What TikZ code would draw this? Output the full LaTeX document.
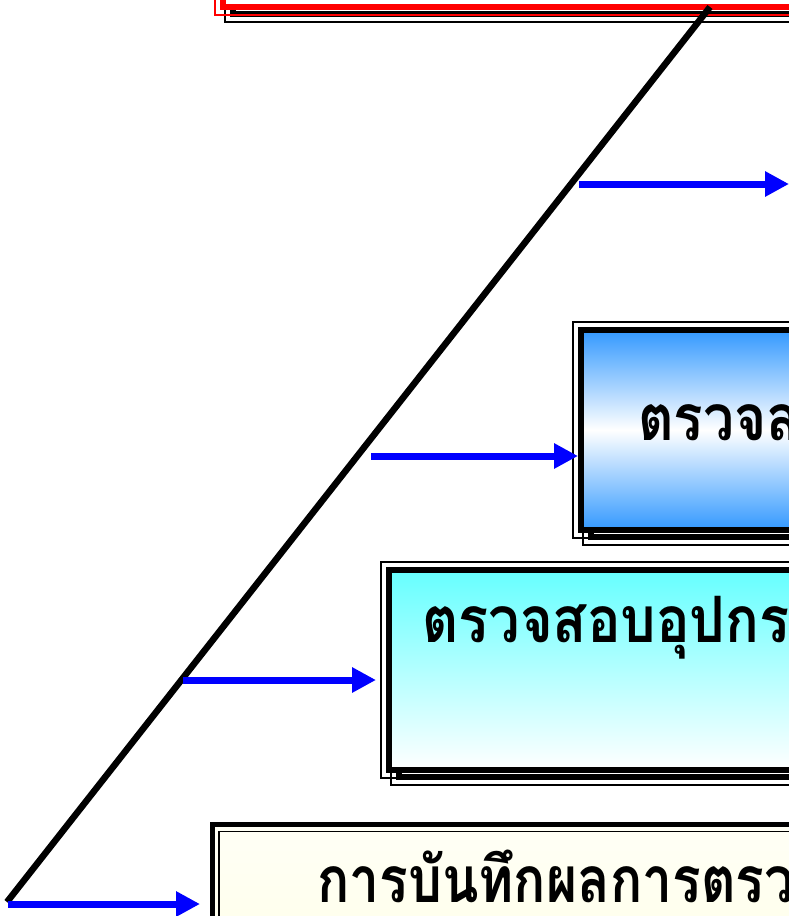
\documentclass[tikz,border=0pt]{standalone}
\usepackage{graphicx}
\usepackage{fontspec}
\newfontfamily\thaifont[Script=Thai]{Loma}
\usetikzlibrary{arrows.meta}

\definecolor{arrowblue}{RGB}{0,0,255}
\definecolor{skyblue}{RGB}{51,153,255}
\definecolor{aquatop}{RGB}{102,255,255}
\definecolor{creamtop}{RGB}{255,255,246}
\definecolor{creambot}{RGB}{255,255,220}
\definecolor{framered}{RGB}{255,0,0}

% thin outer line + thick inner line, with an offset shadow of the same kind
\newcommand\shadowframe[3]{% #1 node, #2 fill options, #3 line colour
  \draw[black, thinrule] ([shift={(10,7)}]#1.north west) rectangle ([shift={(10,7)}]#1.south east);
  \draw[black, thickrule] ([shift={(18,15)}]#1.north west) rectangle ([shift={(2,-1)}]#1.south east);
  \fill[#2] ([shift={(8,8)}]#1.north west) rectangle ([shift={(-8,-8)}]#1.south east);
  \draw[#3, thickrule] ([shift={(8,8)}]#1.north west) rectangle ([shift={(-8,-8)}]#1.south east);
  \draw[#3, thinrule] (#1.north west) rectangle (#1.south east);
}
% condensed bold Thai caption
\newcommand\thaicap[2][0.86]{\scalebox{#1}[1]{#2}}

\begin{document}
\begin{tikzpicture}[x=1pt, y=-1pt,
  area/.style={rectangle, draw=none, inner sep=0pt, outer sep=0pt, anchor=north west},
  thinrule/.style={line width=1.3pt},
  thickrule/.style={line width=6pt},
  label/.style={anchor=base west, inner sep=0pt, text=black,
    font=\thaifont\bfseries\fontsize{64}{64}\selectfont},
  link/.style={draw=arrowblue, line width=7pt, -{Triangle[length=24pt, width=24pt]}},
  spine/.style={draw=black, line width=6.5pt}]

\useasboundingbox (0,0) rectangle (789,916);
\clip (0,0) rectangle (789,916);
\fill[white] (0,0) rectangle (789,916);

% box outlines (they run on past the right edge)
\node[area, minimum width=800pt, minimum height=75pt]  (top)   at (215,-60) {};
\node[area, minimum width=500pt, minimum height=216pt] (check) at (573,322) {};
\node[area, minimum width=700pt, minimum height=216pt] (tools) at (381,562) {};
\node[area, minimum width=800pt, minimum height=300pt] (log)   at (210,822) {};

% red box at the top
\shadowframe{top}{white}{framered}

% blue box
\shadowframe{check}{top color=skyblue, bottom color=skyblue, middle color=white}{black}
\node[label] (checktext) at (638,440) {\thaicap{ตรวจส}};

% cyan box
\shadowframe{tools}{top color=aquatop, bottom color=white}{black}
\node[label] (toolstext) at (422,642) {\thaicap[0.875]{ตรวจสอบอุปกร}};

% cream box: thick outer line + thin inner line
\fill[top color=creamtop, bottom color=creambot] (log.north west) rectangle (log.south east);
\draw[black, line width=5pt] ([shift={(2.5,2.5)}]log.north west) rectangle ([shift={(-2.5,-2.5)}]log.south east);
\draw[black, line width=1.5pt] ([shift={(9,9.5)}]log.north west) rectangle ([shift={(-9,-9)}]log.south east);
\node[label] (logtext) at (317,902) {\thaicap[0.835]{การบันทึกผลการตรว}};

% diagonal spine
\coordinate (apex) at (710,7);
\coordinate (foot) at (7,902);
\draw[spine] (foot) -- (apex);

% arrows from the spine to the boxes
\coordinate (s1) at (579,184);
\coordinate (s2) at (371,456);
\coordinate (s3) at (183,680);
\coordinate (s4) at (8,904);
\coordinate (e1) at (789,184);
\coordinate (e2) at (578,456);
\coordinate (e3) at (376,680);
\coordinate (e4) at (200,904);
\draw[link] (s1) -- (e1);
\draw[link] (s2) -- (e2);
\draw[link] (s3) -- (e3);
\draw[link] (s4) -- (e4);
\end{tikzpicture}
\end{document}
